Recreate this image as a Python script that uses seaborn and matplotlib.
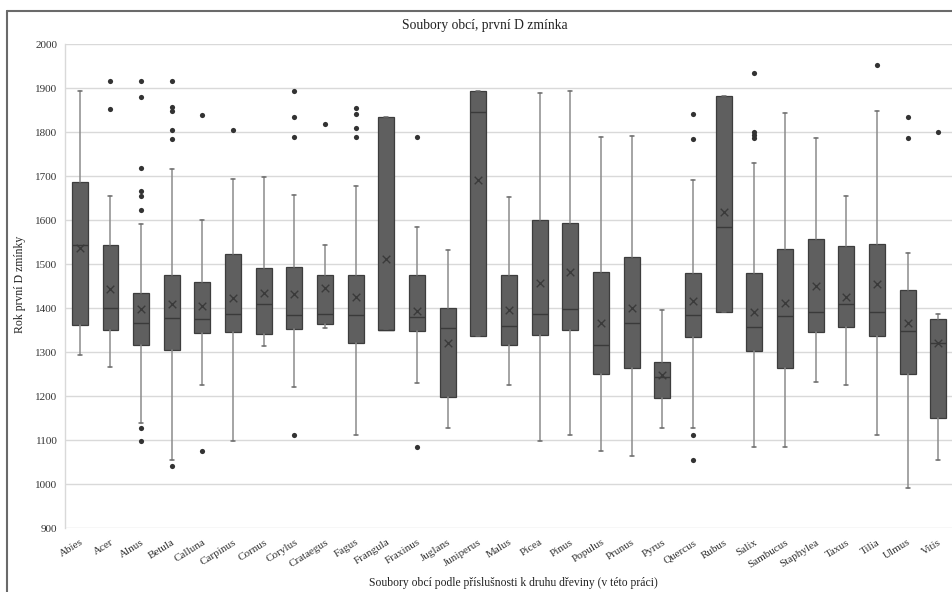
import numpy as np
import pandas as pd
import matplotlib
matplotlib.use("Agg")
import matplotlib.pyplot as plt
from matplotlib.lines import Line2D
import seaborn as sns

species = ["Abies", "Acer", "Alnus", "Betula", "Calluna", "Carpinus", "Cornus",
           "Corylus", "Crataegus", "Fagus", "Frangula", "Fraxinus", "Juglans",
           "Juniperus", "Malus", "Picea", "Pinus", "Populus", "Prunus", "Pyrus",
           "Quercus", "Rubus", "Salix", "Sambucus", "Staphylea", "Taxus", "Tilia",
           "Ulmus", "Vitis"]

whisk_low = [1293, 1266, 1139, 1054, 1224, 1098, 1314, 1221, 1354, 1111, 1349, 1230,
             1127, 1337, 1225, 1097, 1111, 1074, 1064, 1127, 1127, 1390, 1084, 1084,
             1232, 1225, 1112, 990, 1054]
q1 = [1362, 1350, 1315, 1304, 1344, 1346, 1341, 1352, 1364, 1320, 1349, 1348,
      1197, 1337, 1315, 1339, 1349, 1249, 1263, 1196, 1335, 1390, 1302, 1264,
      1345, 1357, 1336, 1251, 1149]
median = [1544, 1400, 1365, 1377, 1374, 1387, 1409, 1384, 1387, 1384, 1349, 1380,
          1354, 1845, 1359, 1387, 1397, 1316, 1367, 1244, 1383, 1585, 1357, 1381,
          1392, 1409, 1391, 1348, 1320]
q3 = [1686, 1543, 1435, 1475, 1460, 1523, 1491, 1494, 1475, 1475, 1834, 1474,
      1401, 1894, 1475, 1600, 1593, 1481, 1517, 1278, 1480, 1881, 1479, 1535,
      1557, 1541, 1546, 1440, 1376]
whisk_high = [1894, 1654, 1591, 1715, 1601, 1693, 1697, 1656, 1544, 1677, 1834, 1583,
              1532, 1894, 1653, 1888, 1894, 1789, 1791, 1396, 1691, 1881, 1729, 1843,
              1787, 1654, 1848, 1525, 1386]
means = [1536, 1443, 1397, 1409, 1404, 1422, 1434, 1431, 1446, 1425, 1511, 1393,
         1320, 1691, 1395, 1456, 1481, 1366, 1401, 1247, 1415, 1618, 1391, 1412,
         1450, 1426, 1455, 1366, 1320]
outliers = [[], [1917, 1853], [1917, 1880, 1719, 1666, 1655, 1623, 1127, 1097],
            [1917, 1857, 1848, 1805, 1785, 1041], [1838, 1074], [1805], [],
            [1894, 1835, 1789, 1111], [1818], [1854, 1840, 1808, 1789], [],
            [1788, 1083], [], [], [], [], [], [], [], [],
            [1840, 1785, 1111, 1054], [], [1935, 1800, 1794, 1786], [], [], [],
            [1953], [1834, 1787], [1801]]

y_ticks = [900, 1000, 1100, 1200, 1300, 1400, 1500, 1600, 1700, 1800, 1900, 2000]
title = "Soubory obcí, první D zmínka"
xlabel = "Soubory obcí podle příslušnosti k druhu dřeviny (v této práci)"
ylabel = "Rok první D zmínky"

sns.set_theme(style="whitegrid")
plt.rcParams["font.family"] = ["Liberation Serif", "DejaVu Serif"]

W, H = 952, 592
fig = plt.figure(figsize=(W / 100, H / 100), dpi=100)
fig.patch.set_facecolor("white")
left_px, right_px, top_px, bot_px = 64.5, 953.6, 44, 528
ax = fig.add_axes([left_px / W, 1 - bot_px / H, (right_px - left_px) / W, (bot_px - top_px) / H])
ax.set_facecolor("white")

stats = []
for i, name in enumerate(species):
    stats.append(dict(label=name, whislo=whisk_low[i], q1=q1[i], med=median[i],
                      q3=q3[i], whishi=whisk_high[i], mean=means[i], fliers=[]))

pos = np.arange(len(species))
ax.bxp(stats, positions=pos, widths=0.52, patch_artist=True, showmeans=False,
       showfliers=False, capwidths=0.13,
       boxprops=dict(facecolor="#5f5f5f", edgecolor="#3d3d3d", linewidth=0.9),
       medianprops=dict(color="#3a3a3a", linewidth=1.0),
       whiskerprops=dict(color="#8c8c8c", linewidth=1.1),
       capprops=dict(color="#6a6a6a", linewidth=1.1),
       zorder=3)

mean_df = pd.DataFrame({"x": pos, "y": means})
sns.scatterplot(data=mean_df, x="x", y="y", marker="x", s=30, color="#3a3a3a",
                linewidth=1.0, ax=ax, zorder=5, legend=False)

out_x, out_y = [], []
for i, vals in enumerate(outliers):
    for v in vals:
        out_x.append(i)
        out_y.append(v)
out_df = pd.DataFrame({"x": out_x, "y": out_y})
sns.scatterplot(data=out_df, x="x", y="y", marker="o", s=14, color="#333333",
                edgecolor="#333333", linewidth=0, ax=ax, zorder=5, legend=False)

ax.set_xlim(-0.5, len(species) - 0.5)
ax.set_ylim(900, 2000)
ax.set_yticks(y_ticks)
ax.set_yticklabels([str(t) for t in y_ticks], fontsize=8, color="#333333")
ax.set_xticks(pos)
ax.set_xticklabels(species, rotation=32, ha="right", rotation_mode="anchor",
                   fontsize=8, color="#333333")
ax.tick_params(axis="x", pad=7, length=0)
ax.tick_params(axis="y", pad=5, length=0)
ax.grid(axis="y", color="#d9d9d9", linewidth=1.0)
ax.grid(axis="x", visible=False)
for s in ["top", "right", "bottom"]:
    ax.spines[s].set_visible(False)
ax.spines["left"].set_color("#d9d9d9")
ax.spines["left"].set_linewidth(1.0)
ax.set_xlabel("")
ax.set_ylabel("")

fig.text(485 / W, 1 - 26 / H, title, ha="center", va="center", fontsize=9.8, color="#222222")
fig.text(513 / W, 1 - 583 / H, xlabel, ha="center", va="center", fontsize=8.4, color="#222222")
fig.text(20 / W, 1 - 284 / H, ylabel, ha="center", va="center", rotation=90,
         fontsize=8.5, color="#222222")

# outer chart frame (top and left visible)
fig.add_artist(Line2D([7 / W, 1.0], [1 - 11 / H, 1 - 11 / H], transform=fig.transFigure,
                      color="#6a6a6a", linewidth=1.5))
fig.add_artist(Line2D([7 / W, 7 / W], [0, 1 - 11 / H], transform=fig.transFigure,
                      color="#6a6a6a", linewidth=1.5))

fig.savefig("out.png", dpi=100)
